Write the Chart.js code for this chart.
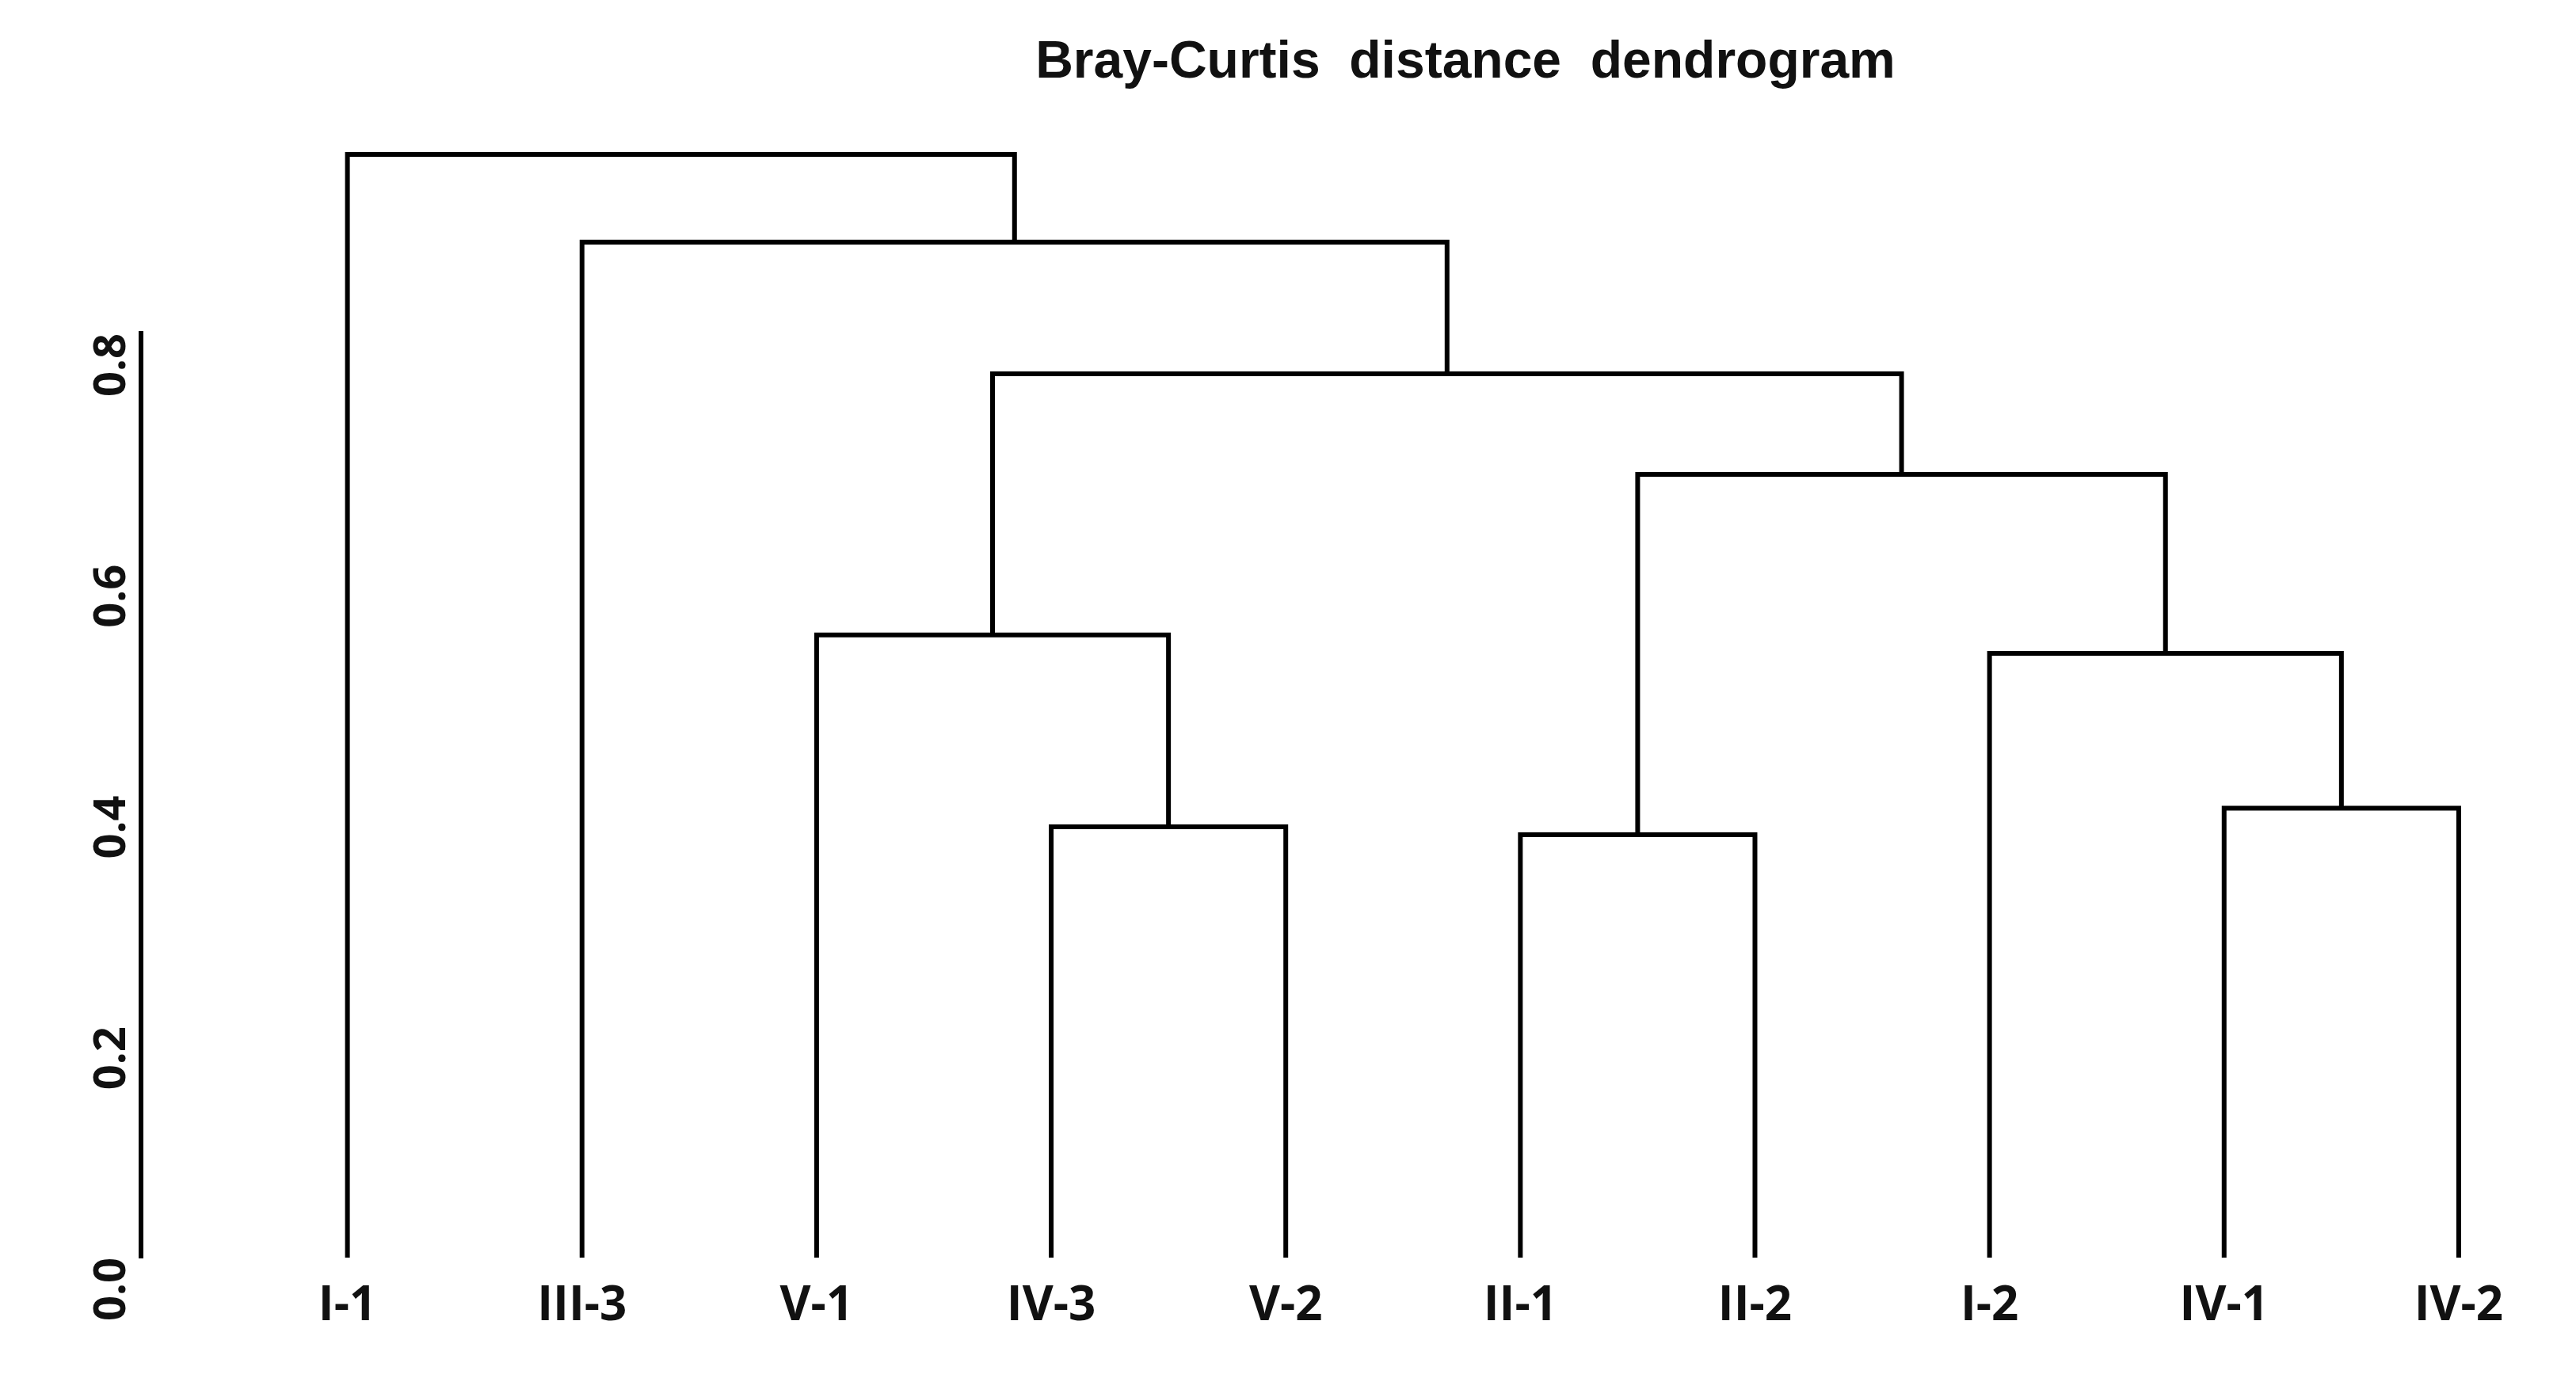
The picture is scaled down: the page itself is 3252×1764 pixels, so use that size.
<!DOCTYPE html>
<html><head><meta charset="utf-8">
<script src="https://cdn.jsdelivr.net/npm/chart.js@4"></script>
<style>html,body{margin:0;padding:0;background:#fff}#w{width:3252px;height:1764px}</style>
</head><body><div id="w"><canvas id="c"></canvas></div>
<script>
const titleText = "Bray-Curtis  distance  dendrogram";
const leaves = ["I-1","III-3","V-1","IV-3","V-2","II-1","II-2","I-2","IV-1","IV-2"];
const yTicks = [0,0.2,0.4,0.6,0.8];
const mergeLeft  = [3, 5, 8, 7, 2, 5.5, 2.75, 1, 0];
const mergeLeftB = [0, 0, 0, 0, 0, 0.366, 0.539, 0, 0];
const mergeRight = [4, 6, 9, 8.5, 3.5, 7.75, 6.625, 4.6875, 2.84375];
const mergeRightB= [0, 0, 0, 0.389, 0.373, 0.523, 0.678, 0.765, 0.879];
const mergeH     = [0.373, 0.366, 0.389, 0.523, 0.539, 0.678, 0.765, 0.879, 0.955];

const datasets = mergeH.map((h,i)=>({
  data:[{x:mergeLeft[i],y:mergeLeftB[i]},{x:mergeLeft[i],y:h},{x:mergeRight[i],y:h},{x:mergeRight[i],y:mergeRightB[i]}],
  showLine:true, borderColor:'#000', borderWidth:6, pointRadius:0, fill:false, clip:false, tension:0
}));

const titlePlugin = {id:'t', afterDraw(chart){
  const ctx=chart.ctx; ctx.save();
  ctx.font='bold 66px "Liberation Sans", Arial, sans-serif';
  ctx.fillStyle='#111'; ctx.textAlign='center'; ctx.textBaseline='middle';
  ctx.fillText(titleText, 1850, 80); ctx.restore();
}};

new Chart(document.getElementById('c'),{
  type:'scatter',
  data:{datasets},
  plugins:[titlePlugin],
  options:{
    responsive:true, maintainAspectRatio:false, animation:false,
    layout:{padding:{left:0,right:0,top:421,bottom:0}},
    plugins:{legend:{display:false},tooltip:{enabled:false}},
    scales:{
      x:{type:'linear',min:-0.88,max:9.5,
        grid:{display:false},border:{display:false},
        afterBuildTicks:(s)=>{s.ticks=leaves.map((_,i)=>({value:i}));},
        afterFit:(s)=>{s.height=176;},
        ticks:{autoSkip:false,color:'#111',padding:18,maxRotation:0,
          font:{family:'Open Sans, Liberation Sans, sans-serif',size:60,weight:'bold'},
          callback:(v)=>leaves[v]}},
      y:{type:'linear',min:0,max:0.8,
        grid:{display:false,drawTicks:false},border:{display:true,color:'#000',width:6},
        afterBuildTicks:(s)=>{s.ticks=yTicks.map(v=>({value:v}));},
        afterFit:(s)=>{s.width=178;},
        ticks:{color:'#111',minRotation:90,maxRotation:90,padding:36,
          font:{family:'Open Sans, Liberation Sans, sans-serif',size:56,weight:'bold'},
          callback:(v)=>v.toFixed(1)}}
    }
  }
});
</script></body></html>
